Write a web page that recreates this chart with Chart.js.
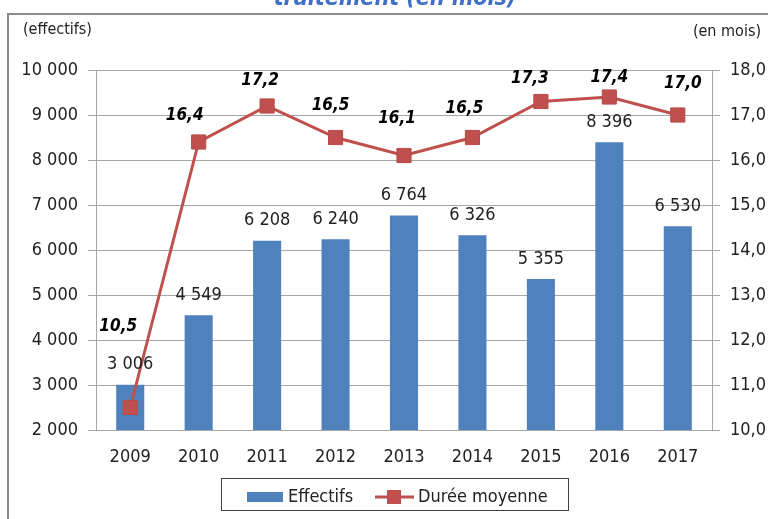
<!DOCTYPE html>
<html lang="fr">
<head>
<meta charset="utf-8">
<title>Effectifs et durée moyenne de traitement</title>
<script src="https://cdn.jsdelivr.net/npm/chart.js@4/dist/chart.umd.min.js"></script>
<style>
  html, body { margin: 0; padding: 0; background: #fff; }
  #wrap { width: 768px; height: 519px; }
</style>
</head>
<body>
<div id="wrap"><canvas id="mixedChart" width="768" height="519"></canvas></div>
<script>
const years = ["2009", "2010", "2011", "2012", "2013", "2014", "2015", "2016", "2017"];
const effectifs = [3006, 4549, 6208, 6240, 6764, 6326, 5355, 8396, 6530];
const dureeMoyenne = [10.5, 16.4, 17.2, 16.5, 16.1, 16.5, 17.3, 17.4, 17.0];
const leftTicks = [2000, 10000, 1000];
const rightTicks = [10, 18, 1];

// hand-placed offsets of the duration labels (dx, dy from the marker)
const dureeLabelShift = [[-12, -81], [-14, -26], [-7, -25], [-5, -32], [-7, -37], [-8, -29], [-11, -23], [0, -19], [5, -31]];

const FONT = '"Liberation Sans Narrow", "DejaVu Sans Condensed", Lato, sans-serif';
const BLUE = "#4f81bd";
const RED = "#c0504d";
const GRID = "#a6a6a6";

function fmtThousands(v) {
  return String(Math.round(v)).replace(/\B(?=(\d{3})+(?!\d))/g, " ");
}
function fmtDecimal(v) {
  return v.toFixed(1).replace(".", ",");
}

const framePlugin = {
  id: "frame",
  beforeDraw(chart) {
    const c = chart.ctx;
    c.save();
    c.fillStyle = "#fff";
    c.fillRect(0, 0, chart.width, chart.height);
    c.strokeStyle = "#8c8c8c";
    c.lineWidth = 2;
    c.strokeRect(8, 14, chart.width + 10, chart.height + 10);
    c.restore();
  },
  afterDraw(chart) {
    const c = chart.ctx;
    c.save();
    // title, cut by the top edge
    c.fillStyle = "#3f6fc6";
    c.font = "bold italic 23px " + FONT;
    c.textAlign = "center";
    c.textBaseline = "alphabetic";
    c.fillText("traitement (en mois)", 395, 5);

    c.fillStyle = "#222";
    c.font = "16px " + FONT;
    c.textBaseline = "middle";
    c.textAlign = "left";
    c.fillText("(effectifs)", 23, 30);
    c.textAlign = "right";
    c.fillText("(en mois)", 761, 32);

    // legend box
    c.strokeStyle = "#404040";
    c.lineWidth = 1;
    c.strokeRect(221.5, 478.5, 347, 32);
    c.fillStyle = BLUE;
    c.fillRect(247, 492, 36, 10);
    c.strokeStyle = RED;
    c.lineWidth = 3;
    c.beginPath();
    c.moveTo(375, 497);
    c.lineTo(414, 497);
    c.stroke();
    c.fillStyle = RED;
    c.fillRect(387, 490, 14, 14);
    c.fillStyle = "#222";
    c.font = "18px " + FONT;
    c.textAlign = "left";
    c.fillText(chart.data.datasets[0].label, 288, 497);
    c.fillText(chart.data.datasets[1].label, 418, 497);
    c.restore();
  }
};

const valueLabels = {
  id: "valueLabels",
  afterDatasetsDraw(chart) {
    const c = chart.ctx;
    c.save();
    c.textAlign = "center";
    c.textBaseline = "middle";
    c.fillStyle = "#222";
    c.font = "18px " + FONT;
    chart.getDatasetMeta(0).data.forEach((bar, i) => {
      c.fillText(fmtThousands(effectifs[i]), bar.x, bar.y - 20);
    });
    c.fillStyle = "#000";
    c.font = "bold italic 17px " + FONT;
    chart.getDatasetMeta(1).data.forEach((pt, i) => {
      const s = dureeLabelShift[i];
      c.fillText(fmtDecimal(dureeMoyenne[i]), pt.x + s[0], pt.y + s[1]);
    });
    c.restore();
  }
};

const ctx = document.getElementById("mixedChart").getContext("2d");
const mixedChart = new Chart(ctx, {
  data: {
    labels: years,
    datasets: [
      {
        type: "bar",
        label: "Effectifs",
        data: effectifs,
        backgroundColor: BLUE,
        borderWidth: 0,
        categoryPercentage: 1,
        barPercentage: 0.41,
        yAxisID: "y",
        order: 1,
      },
      {
        type: "line",
        label: "Durée moyenne",
        data: dureeMoyenne,
        borderColor: RED,
        borderWidth: 3,
        backgroundColor: RED,
        pointStyle: "rect",
        pointRadius: 10,
        pointBorderWidth: 1,
        pointBorderColor: "#b9494a",
        tension: 0,
        yAxisID: "y1",
        order: 0,
      },
    ],
  },
  options: {
    responsive: false,
    animation: false,
    layout: { padding: { top: 70, left: 0, right: 0, bottom: 0 } },
    plugins: {
      legend: { display: false },
      tooltip: { enabled: false },
    },
    scales: {
      x: {
        grid: { display: false, drawTicks: false },
        border: { display: true, color: GRID, width: 1 },
        ticks: { color: "#222", font: { family: FONT, size: 18 }, padding: 17 },
        afterFit(scale) { scale.height = 89; },
      },
      y: {
        position: "left",
        min: leftTicks[0],
        max: leftTicks[1],
        grid: { color: GRID, tickLength: 8, tickColor: GRID },
        border: { display: true, color: GRID, width: 1 },
        ticks: {
          stepSize: leftTicks[2],
          color: "#222",
          font: { family: FONT, size: 18 },
          padding: 10,
          callback: (v) => fmtThousands(v),
        },
        afterFit(scale) { scale.width = 96; },
      },
      y1: {
        position: "right",
        min: rightTicks[0],
        max: rightTicks[1],
        grid: { drawOnChartArea: false, tickLength: 8, color: GRID },
        border: { display: true, color: GRID, width: 1 },
        ticks: {
          stepSize: rightTicks[2],
          color: "#222",
          font: { family: FONT, size: 18 },
          padding: 10,
          callback: (v) => fmtDecimal(v),
        },
        afterFit(scale) { scale.width = 56; },
      },
    },
  },
  plugins: [framePlugin, valueLabels],
});
</script>
</body>
</html>
